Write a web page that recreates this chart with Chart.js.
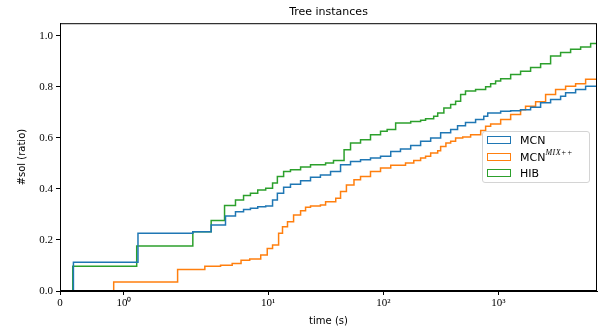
<!DOCTYPE html>
<html>
<head>
<meta charset="utf-8">
<script src="https://cdn.jsdelivr.net/npm/chart.js@4/dist/chart.umd.min.js"></script>
<style>
  body { margin: 0; background: #fff; }
  #wrap { position: relative; width: 598px; height: 332px; }
  #legend {
    position: absolute; left: 482px; top: 131px; width: 108px; height: 52px;
    box-sizing: border-box; border: 1px solid #d4d4d4; border-radius: 3px;
    background: rgba(255,255,255,0.8);
    font: 11px 'DejaVu Sans', sans-serif; color: #000;
  }
  #legend .item { height: 16.5px; display: flex; align-items: center; padding-left: 4px; }
  #legend .swatch { width: 24px; height: 8px; box-sizing: border-box; border: 1.5px solid; margin-right: 9px; }
  #legend sup { font: italic 8px 'Liberation Serif', serif; position: relative; top: -1px; letter-spacing: 0.5px; }
</style>
</head>
<body>
<div id="wrap">
  <canvas id="chart" width="598" height="332"></canvas>
  <div id="legend"></div>
</div>
<script>
// time (s) at which each solver reaches the given solved ratio
const mcnTime = [0.21, 0.21, 1.22, 2.21, 3.19, 4.25, 5.19, 6.1, 7.0, 8.1, 9.5, 10.9, 12.0, 13.6, 15.6, 19.1, 23.3, 28.4, 34.8, 42.5, 51.9, 63.4, 77.4, 94.6, 116, 141, 173, 211, 258, 315, 385, 442, 518, 634, 747, 808, 1047, 1279, 1560, 1906, 2329, 2845, 3475, 3840, 4692, 5733, 7200];
const mcnRatio = [0, 0.113, 0.226, 0.232, 0.259, 0.294, 0.311, 0.320, 0.324, 0.330, 0.333, 0.357, 0.383, 0.407, 0.419, 0.432, 0.446, 0.455, 0.469, 0.495, 0.508, 0.515, 0.521, 0.528, 0.547, 0.557, 0.570, 0.587, 0.600, 0.620, 0.633, 0.648, 0.661, 0.672, 0.685, 0.698, 0.705, 0.707, 0.711, 0.720, 0.738, 0.751, 0.764, 0.777, 0.790, 0.803, 0.817];

const mixTime = [0.84, 0.84, 1.84, 2.81, 3.85, 4.86, 5.8, 6.9, 8.6, 9.8, 10.9, 12.3, 13.3, 14.7, 16.6, 19.1, 21.1, 23.3, 28.4, 31.5, 38.6, 42.5, 47.8, 55.6, 63.4, 77.4, 94.6, 116, 156, 184, 211, 233, 258, 297, 315, 350, 385, 425, 490, 574, 702, 775, 857, 1047, 1279, 1560, 1723, 2107, 2574, 3143, 3840, 4692, 5733, 7200];
const mixRatio = [0, 0.035, 0.084, 0.097, 0.101, 0.108, 0.121, 0.125, 0.141, 0.167, 0.180, 0.226, 0.252, 0.272, 0.298, 0.315, 0.328, 0.333, 0.337, 0.350, 0.364, 0.390, 0.416, 0.436, 0.449, 0.469, 0.482, 0.493, 0.502, 0.512, 0.521, 0.528, 0.541, 0.550, 0.567, 0.580, 0.587, 0.600, 0.604, 0.613, 0.629, 0.646, 0.655, 0.672, 0.692, 0.711, 0.724, 0.742, 0.770, 0.790, 0.803, 0.813, 0.830, 0.849];

const hibTime = [0.20, 0.20, 1.20, 2.21, 3.19, 4.17, 5.19, 6.1, 7.0, 8.1, 9.5, 10.9, 12.0, 13.6, 15.6, 19.1, 23.3, 31.5, 36.9, 45.6, 51.9, 63.4, 77.4, 94.6, 108, 128, 173, 211, 233, 274, 297, 336, 385, 425, 470, 518, 634, 775, 857, 946, 1047, 1279, 1560, 1906, 2329, 2845, 3475, 4246, 5188, 6339, 7200];
const hibRatio = [0, 0.097, 0.176, 0.232, 0.276, 0.335, 0.357, 0.374, 0.383, 0.396, 0.403, 0.423, 0.449, 0.469, 0.475, 0.486, 0.495, 0.502, 0.512, 0.554, 0.580, 0.593, 0.613, 0.626, 0.633, 0.659, 0.665, 0.669, 0.675, 0.685, 0.698, 0.718, 0.731, 0.744, 0.770, 0.784, 0.790, 0.801, 0.813, 0.823, 0.832, 0.849, 0.862, 0.876, 0.891, 0.921, 0.935, 0.948, 0.957, 0.970, 0.983];

const seriesLabels = ['MCN', 'MCN^MIX++', 'HIB'];
const seriesColors = ['#1f77b4', '#ff7f0e', '#2ca02c'];

const xTickValues = [0, 1, 10, 100, 1000];
const xTickLabels = ['0', '10\u2070', '10\u00b9', '10\u00b2', '10\u00b3'];
const yTickValues = [0, 0.2, 0.4, 0.6, 0.8, 1.0];

// symlog axis like matplotlib (linthresh 2, linscale 1)
const LINTHRESH = 2;
const LINSCALE_ADJ = 1 / (1 - 1 / 10);
const symlog = v => v <= LINTHRESH ? v / LINTHRESH * LINSCALE_ADJ : LINSCALE_ADJ + Math.log10(v / LINTHRESH);
const symexp = f => f <= LINSCALE_ADJ ? f / LINSCALE_ADJ * LINTHRESH : LINTHRESH * Math.pow(10, f - LINSCALE_ADJ);

class SymlogScale extends Chart.LinearScale {
  static id = 'symlog';
  buildTicks() {
    return xTickValues.filter(v => v >= this.min && v <= this.max).map(v => ({ value: v }));
  }
  getPixelForValue(value) {
    const lo = symlog(this.min), hi = symlog(this.max);
    return this.getPixelForDecimal((symlog(value) - lo) / (hi - lo));
  }
  getValueForPixel(pixel) {
    const lo = symlog(this.min), hi = symlog(this.max);
    return symexp(lo + this.getDecimalForPixel(pixel) * (hi - lo));
  }
}
Chart.register(SymlogScale);

const toPoints = (xs, ys) => xs.map((x, i) => ({ x, y: ys[i] }));

const frame = {
  id: 'frame',
  afterDraw(chart) {
    const { ctx, chartArea: a } = chart;
    ctx.save();
    ctx.strokeStyle = '#000';
    ctx.lineWidth = 1;
    ctx.strokeRect(a.left + 0.5, a.top + 0.5, a.right - a.left - 1, a.bottom - a.top - 1);
    ctx.restore();
  }
};

const htmlLegend = {
  id: 'htmlLegend',
  afterUpdate(chart) {
    const box = document.getElementById('legend');
    box.innerHTML = '';
    chart.data.datasets.forEach(ds => {
      const row = document.createElement('div');
      row.className = 'item';
      const sw = document.createElement('span');
      sw.className = 'swatch';
      sw.style.borderColor = ds.borderColor;
      const txt = document.createElement('span');
      const [base, sup] = ds.label.split('^');
      txt.textContent = base;
      if (sup) {
        const s = document.createElement('sup');
        s.textContent = sup;
        txt.appendChild(s);
      }
      row.appendChild(sw);
      row.appendChild(txt);
      box.appendChild(row);
    });
  }
};

const series = [[mcnTime, mcnRatio], [mixTime, mixRatio], [hibTime, hibRatio]];

new Chart(document.getElementById('chart'), {
  type: 'line',
  data: {
    datasets: series.map(([xs, ys], i) => ({
      label: seriesLabels[i],
      data: toPoints(xs, ys),
      borderColor: seriesColors[i],
      borderWidth: 1.5,
      stepped: 'before',
      pointRadius: 0,
      fill: false
    }))
  },
  options: {
    responsive: false,
    devicePixelRatio: 1,
    animation: false,
    layout: { padding: { right: 1 } },
    plugins: {
      legend: { display: false },
      tooltip: { enabled: false },
      title: {
        display: true,
        fullSize: false,
        text: 'Tree instances',
        color: '#000',
        font: { family: 'DejaVu Sans', size: 11, weight: 'normal' },
        padding: { top: 6, bottom: 4 }
      }
    },
    scales: {
      x: {
        type: 'symlog',
        min: 0,
        max: 7200,
        afterFit: s => { s.height = 41; },
        grid: { drawOnChartArea: false, tickLength: 4, tickColor: '#000' },
        border: { color: '#000' },
        ticks: {
          autoSkip: false, maxRotation: 0, padding: 2, color: '#000',
          font: { family: 'Liberation Serif', size: 11 },
          callback: v => xTickLabels[xTickValues.indexOf(v)]
        },
        title: {
          display: true, text: 'time (s)', color: '#000',
          font: { family: 'DejaVu Sans', size: 10 },
          padding: { top: 0, bottom: 5 }
        }
      },
      y: {
        min: 0,
        max: 1.05,
        afterFit: s => { s.width = 60; },
        afterBuildTicks: s => { s.ticks = yTickValues.map(v => ({ value: v })); },
        grid: { drawOnChartArea: false, tickLength: 4, tickColor: '#000' },
        border: { color: '#000' },
        ticks: {
          padding: 3, color: '#000',
          font: { family: 'Liberation Serif', size: 11 },
          callback: v => v.toFixed(1)
        },
        title: {
          display: true, text: '#sol (ratio)', color: '#000',
          font: { family: 'DejaVu Sans', size: 10 },
          padding: { top: 16, bottom: 0 }
        }
      }
    }
  },
  plugins: [frame, htmlLegend]
});
</script>
</body>
</html>
